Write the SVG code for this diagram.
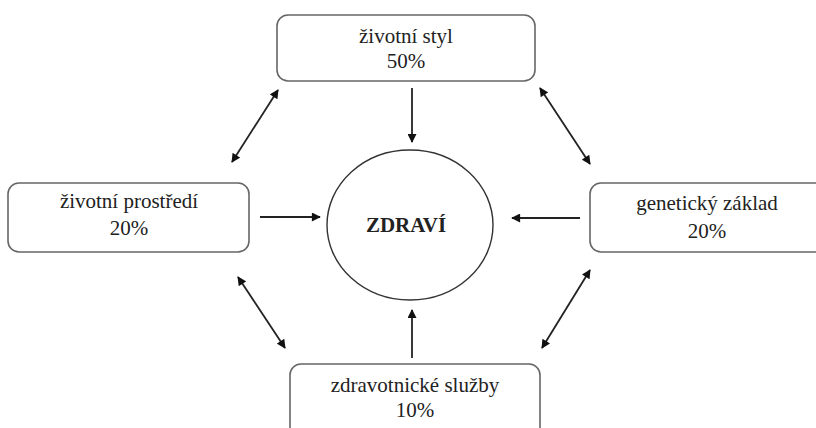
<svg xmlns="http://www.w3.org/2000/svg" width="816" height="428" viewBox="0 0 816 428">
<defs>
<marker id="ah" viewBox="0 0 10 10" refX="9" refY="5" markerWidth="10" markerHeight="9" markerUnits="userSpaceOnUse" orient="auto-start-reverse">
<path d="M0,0 L10,5 L0,10 z" fill="#111"/>
</marker>
<style>
.box{fill:#fff;stroke:#666;stroke-width:1.6}
.t{font-family:"Liberation Serif","Times New Roman",serif;font-size:21px;fill:#222;text-anchor:middle}
.b{font-weight:bold}
.c{stroke:#222;stroke-width:1.8;fill:none}
</style>
</defs>
<rect width="816" height="428" fill="#fff"/>
<g id="zivotni-styl">
<rect class="box" x="277" y="15" width="258" height="66" rx="11"/>
<text class="t" x="406" y="43">životní styl</text>
<text class="t" x="406" y="68">50%</text>
</g>
<g id="zivotni-prostredi">
<rect class="box" x="8" y="183" width="241" height="69" rx="11"/>
<text class="t" x="129" y="208">životní prostředí</text>
<text class="t" x="129" y="235">20%</text>
</g>
<g id="geneticky-zaklad">
<rect class="box" x="590" y="183" width="240" height="69" rx="11"/>
<text class="t" x="707" y="210">genetický základ</text>
<text class="t" x="707" y="238">20%</text>
</g>
<g id="zdravotnicke-sluzby">
<rect class="box" x="290" y="364" width="250" height="80" rx="11"/>
<text class="t" x="415" y="392">zdravotnické služby</text>
<text class="t" x="415" y="417">10%</text>
</g>
<g id="zdravi">
<ellipse cx="410" cy="225" rx="83" ry="75" fill="#fff" stroke="#333" stroke-width="1.4"/>
<text class="t b" x="406" y="232">ZDRAVÍ</text>
</g>
<g id="connectors">
<line class="c" x1="412" y1="88" x2="412" y2="142" marker-end="url(#ah)"/>
<line class="c" x1="260" y1="217" x2="320" y2="217" marker-end="url(#ah)"/>
<line class="c" x1="580" y1="218" x2="512" y2="218" marker-end="url(#ah)"/>
<line class="c" x1="412" y1="358" x2="412" y2="310" marker-end="url(#ah)"/>
<line class="c" x1="232" y1="162" x2="278" y2="90" marker-start="url(#ah)" marker-end="url(#ah)"/>
<line class="c" x1="540" y1="88" x2="590" y2="164" marker-start="url(#ah)" marker-end="url(#ah)"/>
<line class="c" x1="238" y1="277" x2="285" y2="348" marker-start="url(#ah)" marker-end="url(#ah)"/>
<line class="c" x1="590" y1="270" x2="542" y2="348" marker-start="url(#ah)" marker-end="url(#ah)"/>
</g>
</svg>
